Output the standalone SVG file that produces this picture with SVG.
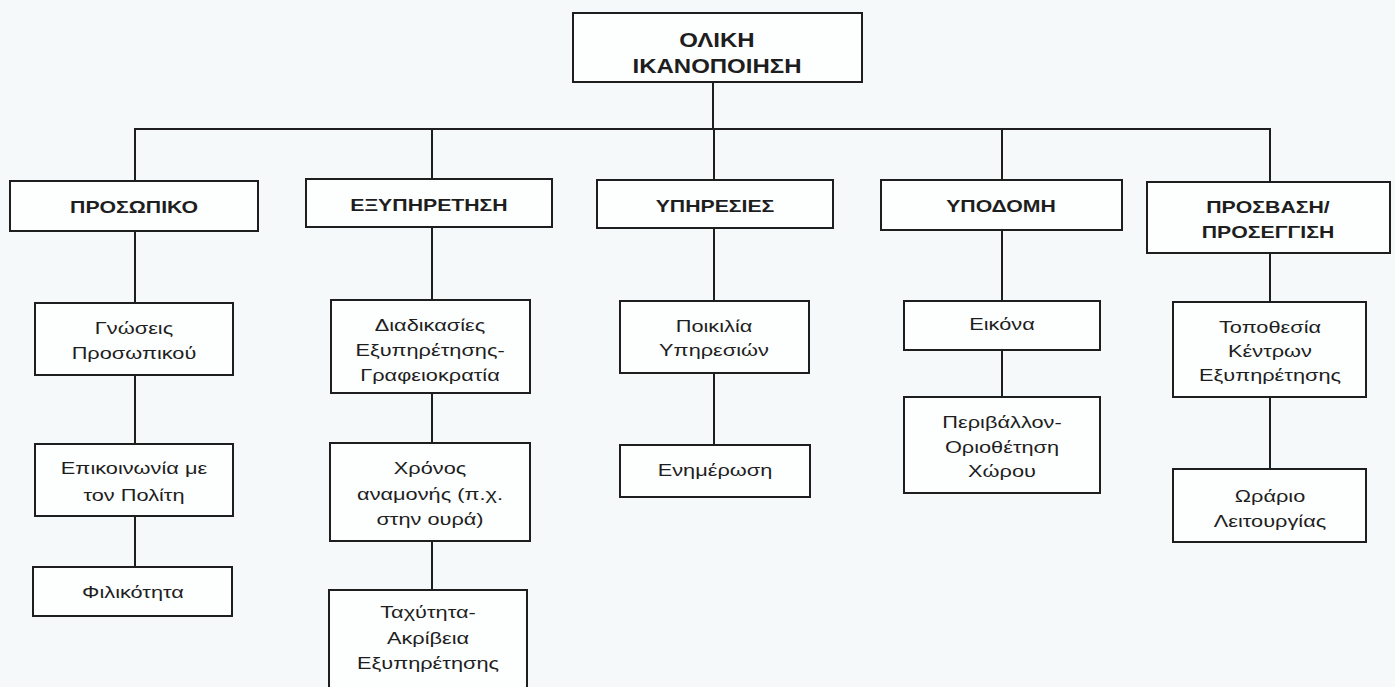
<svg xmlns="http://www.w3.org/2000/svg" width="1395" height="687" viewBox="0 0 1395 687">
<style>
.bx{fill:#fdfefe;stroke:#1e1e1e;stroke-width:2}
.cn line{stroke:#1e1e1e;stroke-width:2}
.t{font-family:"Liberation Sans",Arial,sans-serif;font-size:17px;fill:#1e1e1e;text-anchor:middle}
.h{font-family:"Liberation Sans",Arial,sans-serif;font-size:17px;font-weight:bold;fill:#1e1e1e;text-anchor:middle}
.top{font-family:"Liberation Sans",Arial,sans-serif;font-size:20px;font-weight:bold;fill:#1e1e1e;text-anchor:middle}
</style>
<rect width="1395" height="687" fill="#f6f9f9"/>
<g id="connectors" class="cn">
<line x1="713" y1="82" x2="713" y2="129"/>
<line x1="134" y1="129" x2="1271" y2="129"/>
<line x1="135" y1="129" x2="135" y2="181"/>
<line x1="432" y1="129" x2="432" y2="179"/>
<line x1="714" y1="129" x2="714" y2="180"/>
<line x1="1002" y1="129" x2="1002" y2="180"/>
<line x1="1270" y1="129" x2="1270" y2="182"/>
<line x1="135" y1="231" x2="135" y2="303"/>
<line x1="135" y1="375" x2="135" y2="444"/>
<line x1="135" y1="516" x2="135" y2="567"/>
<line x1="432" y1="227" x2="432" y2="300"/>
<line x1="432" y1="393" x2="432" y2="443"/>
<line x1="432" y1="541" x2="432" y2="590"/>
<line x1="714" y1="228" x2="714" y2="301"/>
<line x1="714" y1="373" x2="714" y2="445"/>
<line x1="1002" y1="230" x2="1002" y2="301"/>
<line x1="1002" y1="350" x2="1002" y2="397"/>
<line x1="1270" y1="253" x2="1270" y2="302"/>
<line x1="1270" y1="397" x2="1270" y2="469"/>
</g>
<g id="n-oliki">
<rect class="bx" x="573" y="13" width="289" height="69"/>
<text class="top" transform="translate(717,0) scale(1.2,1)" y="47">ΟΛΙΚΗ</text>
<text class="top" transform="translate(717,0) scale(1.2,1)" y="73">ΙΚΑΝΟΠΟΙΗΣΗ</text>
</g>
<g id="n-prosopiko">
<rect class="bx" x="10" y="181" width="248" height="50"/>
<text class="h" transform="translate(134,0) scale(1.25,1)" y="213">ΠΡΟΣΩΠΙΚΟ</text>
</g>
<g id="n-exypiretisi">
<rect class="bx" x="306" y="179" width="246" height="48"/>
<text class="h" transform="translate(429,0) scale(1.25,1)" y="211">ΕΞΥΠΗΡΕΤΗΣΗ</text>
</g>
<g id="n-ypiresies">
<rect class="bx" x="597" y="180" width="236" height="48"/>
<text class="h" transform="translate(715,0) scale(1.25,1)" y="212">ΥΠΗΡΕΣΙΕΣ</text>
</g>
<g id="n-ypodomi">
<rect class="bx" x="881" y="180" width="241" height="50"/>
<text class="h" transform="translate(1001,0) scale(1.25,1)" y="212">ΥΠΟΔΟΜΗ</text>
</g>
<g id="n-prosvasi">
<rect class="bx" x="1147" y="182" width="243" height="71"/>
<text class="h" transform="translate(1268,0) scale(1.25,1)" y="213">ΠΡΟΣΒΑΣΗ/</text>
<text class="h" transform="translate(1268,0) scale(1.25,1)" y="238">ΠΡΟΣΕΓΓΙΣΗ</text>
</g>
<g id="n-gnoseis">
<rect class="bx" x="35" y="303" width="198" height="72"/>
<text class="t" transform="translate(134,0) scale(1.28,1)" y="334">Γνώσεις</text>
<text class="t" transform="translate(134,0) scale(1.28,1)" y="359">Προσωπικού</text>
</g>
<g id="n-epikoinonia">
<rect class="bx" x="35" y="444" width="198" height="72"/>
<text class="t" transform="translate(134,0) scale(1.28,1)" y="474">Επικοινωνία με</text>
<text class="t" transform="translate(134,0) scale(1.28,1)" y="501">τον Πολίτη</text>
</g>
<g id="n-filikotita">
<rect class="bx" x="33" y="567" width="199" height="49"/>
<text class="t" transform="translate(133,0) scale(1.28,1)" y="598">Φιλικότητα</text>
</g>
<g id="n-diadikasies">
<rect class="bx" x="331" y="300" width="199" height="93"/>
<text class="t" transform="translate(430,0) scale(1.28,1)" y="331">Διαδικασίες</text>
<text class="t" transform="translate(430,0) scale(1.28,1)" y="356">Εξυπηρέτησης-</text>
<text class="t" transform="translate(430,0) scale(1.28,1)" y="381">Γραφειοκρατία</text>
</g>
<g id="n-xronos">
<rect class="bx" x="330" y="443" width="200" height="98"/>
<text class="t" transform="translate(430,0) scale(1.28,1)" y="474">Χρόνος</text>
<text class="t" transform="translate(430,0) scale(1.28,1)" y="500">αναμονής (π.χ.</text>
<text class="t" transform="translate(430,0) scale(1.28,1)" y="525">στην ουρά)</text>
</g>
<g id="n-taxytita">
<rect class="bx" x="329" y="590" width="198" height="102"/>
<text class="t" transform="translate(428,0) scale(1.28,1)" y="618">Ταχύτητα-</text>
<text class="t" transform="translate(428,0) scale(1.28,1)" y="644">Ακρίβεια</text>
<text class="t" transform="translate(428,0) scale(1.28,1)" y="669">Εξυπηρέτησης</text>
</g>
<g id="n-poikilia">
<rect class="bx" x="620" y="301" width="189" height="72"/>
<text class="t" transform="translate(714,0) scale(1.28,1)" y="332">Ποικιλία</text>
<text class="t" transform="translate(714,0) scale(1.28,1)" y="356">Υπηρεσιών</text>
</g>
<g id="n-enimerosi">
<rect class="bx" x="620" y="445" width="190" height="52"/>
<text class="t" transform="translate(715,0) scale(1.28,1)" y="476">Ενημέρωση</text>
</g>
<g id="n-eikona">
<rect class="bx" x="904" y="301" width="196" height="49"/>
<text class="t" transform="translate(1002,0) scale(1.28,1)" y="330">Εικόνα</text>
</g>
<g id="n-perivallon">
<rect class="bx" x="904" y="397" width="196" height="96"/>
<text class="t" transform="translate(1002,0) scale(1.28,1)" y="428">Περιβάλλον-</text>
<text class="t" transform="translate(1002,0) scale(1.28,1)" y="453">Οριοθέτηση</text>
<text class="t" transform="translate(1002,0) scale(1.28,1)" y="477">Χώρου</text>
</g>
<g id="n-topothesia">
<rect class="bx" x="1173" y="302" width="193" height="95"/>
<text class="t" transform="translate(1270,0) scale(1.28,1)" y="333">Τοποθεσία</text>
<text class="t" transform="translate(1270,0) scale(1.28,1)" y="357">Κέντρων</text>
<text class="t" transform="translate(1270,0) scale(1.28,1)" y="381">Εξυπηρέτησης</text>
</g>
<g id="n-orario">
<rect class="bx" x="1173" y="469" width="193" height="73"/>
<text class="t" transform="translate(1270,0) scale(1.28,1)" y="502">Ωράριο</text>
<text class="t" transform="translate(1270,0) scale(1.28,1)" y="527">Λειτουργίας</text>
</g>
</svg>
